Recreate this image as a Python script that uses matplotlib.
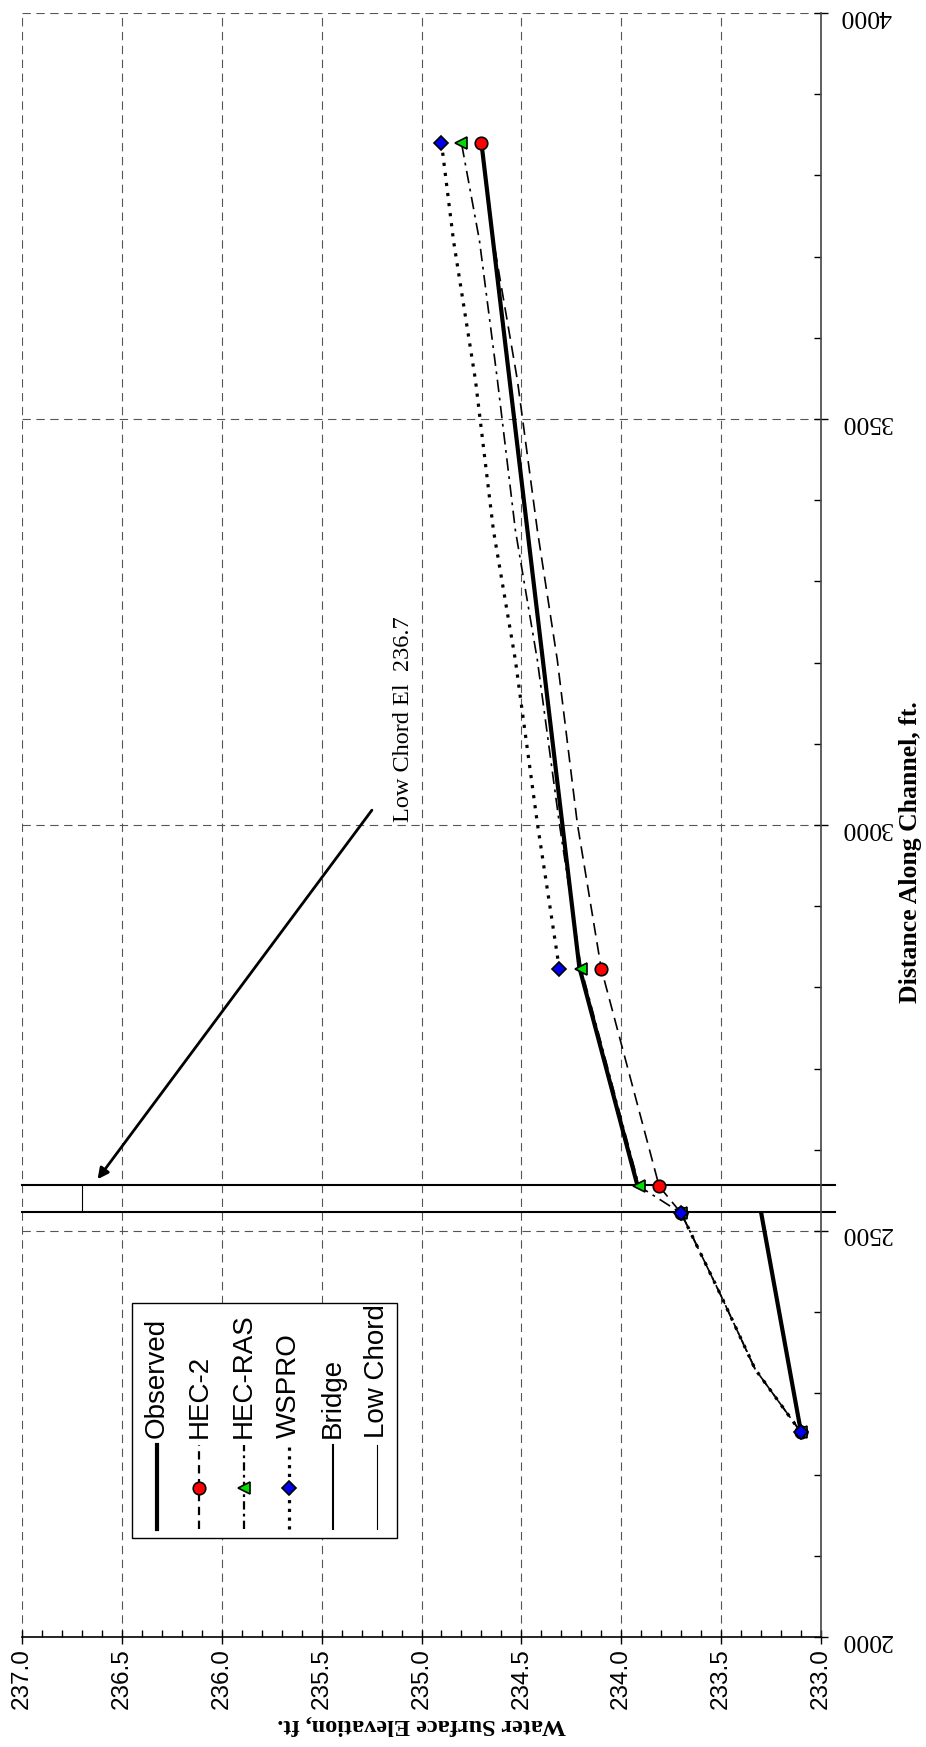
import numpy as np
import matplotlib
matplotlib.use('Agg')
import matplotlib.pyplot as plt
from matplotlib.patches import Rectangle

plt.rcParams['lines.scale_dashes'] = False
plt.rcParams['font.family'] = ['Liberation Serif', 'DejaVu Serif']

nan = np.nan

# observed water surface (broken at the bridge)
obs_dist = [2252, 2523, nan, 2557, 2825, 3840]
obs_elev = [233.1, 233.3, nan, 233.92, 234.21, 234.70]

# model results
model_dist = [2252, 2330, 2420, 2522, 2555, 2823, 3002, 3203, 3363, 3548, 3720, 3840]
hec2_elev = [233.1, 233.33, 233.50, 233.70, 233.81, 234.10, 234.22, 234.32, 234.42, 234.52, 234.64, 234.70]
hecras_elev = [233.1, 233.33, 233.50, 233.70, 233.91, 234.20, 234.31, 234.42, 234.53, 234.62, 234.71, 234.80]
wspro_elev = [233.1, 233.33, 233.50, 233.70, nan, 234.31, 234.42, 234.53, 234.64, 234.73, 234.84, 234.90]
marked = [0, 3, 4, 5, 11]

# bridge
bridge_faces = [2523, 2557]
bridge_elev = [232.93, 237.0]
lowchord_elev = 236.7

elev_ticks = [233.0, 233.5, 234.0, 234.5, 235.0, 235.5, 236.0, 236.5, 237.0]
dist_ticks = [2000, 2500, 3000, 3500, 4000]

fig = plt.figure(figsize=(9.26, 17.47), dpi=100)
ax = fig.add_axes([22/926, 110/1747, 799/926, 1624/1747])

ax.plot(obs_elev, obs_dist, color='black', lw=3.0, solid_capstyle='butt', zorder=3)
ax.plot(hec2_elev, model_dist, color='black', lw=1.2, linestyle=(0, (9, 5)),
        marker='o', markevery=marked, markersize=9, markerfacecolor='red',
        markeredgecolor='black', markeredgewidth=1.2, zorder=4)
ax.plot(hecras_elev, model_dist, color='black', lw=1.2, linestyle=(0, (9, 4, 2, 4)),
        marker='<', markevery=marked, markersize=9, markerfacecolor='#00dd00',
        markeredgecolor='black', markeredgewidth=1.2, zorder=5)
ax.plot(wspro_elev, model_dist, color='black', lw=2.3, linestyle=(0, (2.3, 5)),
        marker='D', markevery=[0, 3, 5, 11], markersize=7, markerfacecolor='#0000ee',
        markeredgecolor='black', markeredgewidth=1.2, zorder=6)

for d in bridge_faces:
    ax.plot(bridge_elev, [d, d], color='black', lw=1.5, clip_on=False, zorder=2)
ax.plot([lowchord_elev, lowchord_elev], bridge_faces, color='black', lw=0.8, zorder=2)

ax.annotate('', xy=(236.63, 2561), xytext=(235.24, 3021),
            arrowprops=dict(arrowstyle='-|>', lw=2, color='black', mutation_scale=16))
ax.text(235.09, 3130, 'Low Chord El  236.7', rotation=90, ha='center', va='center',
        fontsize=17.5)

ax.set_xlim(237, 233)
ax.set_ylim(2000, 4000)
ax.set_xticks(elev_ticks)
ax.set_xticklabels(['%.1f' % v for v in elev_ticks], rotation=90,
                   family=['Liberation Sans'], fontsize=17.5)
ax.set_xticks(np.arange(233, 237.001, 0.1), minor=True)
ax.yaxis.tick_right()
ax.set_yticks(dist_ticks)
ax.set_yticklabels([str(v) for v in dist_ticks], rotation=180, fontsize=18.5)
ax.set_yticks(np.arange(2000, 4001, 100), minor=True)

ax.tick_params(which='major', direction='inout', length=10, width=1)
ax.tick_params(which='minor', direction='in', length=5, width=1)
ax.tick_params(axis='x', which='major', pad=3)
ax.tick_params(axis='y', which='major', pad=9)

ax.grid(which='major', color='#555555', linestyle=(0, (6, 4)), linewidth=0.8)
ax.spines['top'].set_visible(False)
ax.spines['left'].set_visible(False)
ax.spines['bottom'].set_linewidth(1.2)
ax.spines['right'].set_color('#444444')
ax.spines['right'].set_linewidth(1.2)

ax.set_xlabel('Water Surface Elevation, ft.', rotation=180, fontsize=17.5,
              fontweight='bold', va='center', ha='center')
ax.xaxis.set_label_coords(0.5, -0.054)
ax.set_ylabel('Distance Along Channel, ft.', rotation=90, fontsize=18.5,
              fontweight='bold', va='center', ha='center')
ax.yaxis.set_label_position('right')
ax.yaxis.set_label_coords(1.098, 0.483)

# legend drawn by hand (rotated entries)
ax.add_patch(Rectangle((0.1377, 0.0610), 0.3316, 0.1447, transform=ax.transAxes,
                       facecolor='white', edgecolor='black', lw=1, zorder=7))
leg_names = ['Observed', 'HEC-2', 'HEC-RAS', 'WSPRO', 'Bridge', 'Low Chord']
leg_styles = [
    dict(lw=3.0, linestyle='-'),
    dict(lw=1.6, linestyle=(0, (6, 4)), marker='o', markersize=9, markerfacecolor='red'),
    dict(lw=1.6, linestyle=(0, (6, 3, 2, 3)), marker='<', markersize=9, markerfacecolor='#00dd00'),
    dict(lw=2.3, linestyle=(0, (2.3, 4)), marker='D', markersize=7, markerfacecolor='#0000ee'),
    dict(lw=1.5, linestyle='-'),
    dict(lw=0.8, linestyle='-'),
]
leg_x = [0.169, 0.222, 0.278, 0.334, 0.389, 0.444]
for name, st, lx in zip(leg_names, leg_styles, leg_x):
    ax.plot([lx, lx], [0.0665, 0.1182], transform=ax.transAxes, color='black',
            markeredgecolor='black', markeredgewidth=1.2, markevery=[],
            zorder=8, clip_on=False, **st)
    if 'marker' in st:
        ax.plot([lx], [0.0917], transform=ax.transAxes, linestyle='none',
                marker=st['marker'], markersize=st['markersize'],
                markerfacecolor=st['markerfacecolor'], markeredgecolor='black',
                markeredgewidth=1.2, zorder=9, clip_on=False)
    ax.text(lx, 0.1225, name, transform=ax.transAxes, rotation=90, ha='center',
            va='bottom', fontsize=20, family=['Liberation Sans'], zorder=9)

fig.savefig('out.png', dpi=100)
